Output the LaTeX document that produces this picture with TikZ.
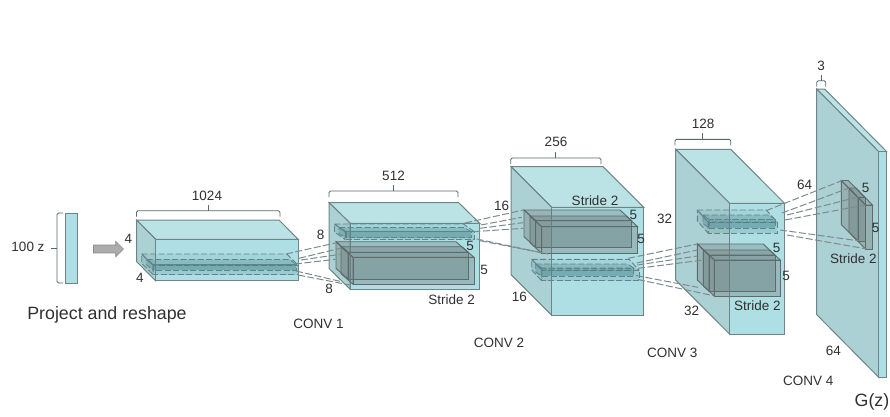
\documentclass[tikz,border=0pt]{standalone}
\usepackage{fontspec}
\setmainfont{Liberation Sans}
\usepackage{xcolor}
\usepackage{tikz}
\usetikzlibrary{shapes,arrows,arrows.meta,positioning,calc}
\definecolor{volfront}{HTML}{AEDFE4}
\definecolor{voltop}{HTML}{BBE3E6}
\definecolor{volside}{HTML}{ACD1D4}
\definecolor{voledge}{HTML}{6F8486}
\definecolor{kergray}{HTML}{5F6A6A}
\definecolor{kerteal}{HTML}{3C7882}
\definecolor{dshedge}{HTML}{5F8589}
\definecolor{lnkgray}{HTML}{7C8B8C}
\definecolor{txtgray}{HTML}{303030}

\newcommand{\cuboid}[8]{%
  \coordinate (#1-btl) at (#2,#3);
  \coordinate (#1-btr) at (#2+#6,#3);
  \coordinate (#1-bbl) at (#2,#3+#7);
  \coordinate (#1-ftl) at (#4,#5);
  \coordinate (#1-ftr) at (#4+#6,#5);
  \coordinate (#1-fbl) at (#4,#5+#7);
  \coordinate (#1-fbr) at (#4+#6,#5+#7);
  \draw[#8/top] (#1-btl) -- (#1-btr) -- (#1-ftr) -- (#1-ftl) -- cycle;
  \draw[#8/side] (#1-btl) -- (#1-ftl) -- (#1-fbl) -- (#1-bbl) -- cycle;
  \draw[#8/front] (#1-ftl) rectangle (#1-fbr);
}
\newcommand{\widthbrace}[3]{%
  \draw[brk] (#1,#3+6) -- (#1,#3) -- (#2,#3) -- (#2,#3+6);
  \draw[brk] ({(#1+#2)/2},#3) -- ({(#1+#2)/2},#3-6);
}

\begin{document}
\begin{tikzpicture}[
    x=1pt,y=-1pt,
    vol/top/.style   = {draw=voledge,line width=1pt,fill=voltop},
    vol/side/.style  = {draw=voledge,line width=1pt,fill=volside},
    vol/front/.style = {draw=voledge,line width=1pt,fill=volfront},
    ker/top/.style   = {draw=kergray,line width=0.9pt,fill=kergray,fill opacity=0.28},
    ker/side/.style  = {draw=kergray,line width=0.9pt,fill=kergray,fill opacity=0.3},
    ker/front/.style = {draw=kergray,line width=0.9pt,fill=kergray,fill opacity=0.3},
    dsh/top/.style   = {draw=dshedge,line width=0.9pt,dash pattern=on 6pt off 2.5pt,fill=kerteal,fill opacity=0.1},
    dsh/side/.style  = {draw=dshedge,line width=0.9pt,dash pattern=on 6pt off 2.5pt,fill=kerteal,fill opacity=0.16},
    dsh/front/.style = {draw=dshedge,line width=0.9pt,dash pattern=on 6pt off 2.5pt,fill=kerteal,fill opacity=0.18},
    inn/top/.style   = {draw=dshedge,line width=0.8pt,dash pattern=on 6pt off 2.5pt,fill=kerteal,fill opacity=0.25},
    inn/side/.style  = {draw=dshedge,line width=0.8pt,dash pattern=on 6pt off 2.5pt,fill=kerteal,fill opacity=0.28},
    inn/front/.style = {draw=dshedge,line width=0.8pt,dash pattern=on 6pt off 2.5pt,fill=kerteal,fill opacity=0.38},
    frontline/.style = {draw=voledge,line width=0.9pt,opacity=0.55},
    lnk/.style  = {draw=lnkgray,line width=1pt,dash pattern=on 7pt off 2.5pt},
    brk/.style  = {draw=voledge!80!black,line width=0.9pt,rounded corners=1.5pt},
    num/.style  = {font=\fontsize{13.5}{15}\selectfont,text=txtgray,inner sep=0pt},
    bigtext/.style  = {font=\fontsize{17.8}{20}\selectfont,text=txtgray,inner sep=0pt},
    bigarrow/.style = {single arrow,draw=gray!90,fill=gray!65,line width=0.6pt,
                       minimum height=30pt,minimum width=15.5pt,inner sep=3.4pt,
                       single arrow head extend=3.5pt,single arrow head indent=0pt},
  ]
  \useasboundingbox (0,0) rectangle (890,416);

  \draw[vol/front] (65.5,213) rectangle (77.5,283);
  \draw[brk] (63,213) -- (57,213) -- (57,283) -- (63,283);
  \draw[brk] (57,248) -- (50.5,248);
  \node[num] (z) at (28,247) {100 z};
  \node[bigarrow] (proj) at (106.5,249) {};
  \node[bigtext] (reshape) at (107,314.5) {Project and reshape};

  \cuboid{v1}{136.5}{220}{155.7}{239.3}{142.5}{41.5}{vol}
  \cuboid{v2}{329}{202.5}{350.2}{223.3}{129.5}{66}{vol}
  \cuboid{v3}{511}{166.7}{551.7}{207.3}{92}{108}{vol}
  \cuboid{v4}{675.7}{149.3}{729.5}{203.3}{55}{130.7}{vol}
  \cuboid{v5}{816.7}{89}{878.7}{151.7}{8}{225.6}{vol}

  \cuboid{d1}{141.7}{254}{153}{265}{145}{9.5}{dsh}
  \cuboid{e1}{146.7}{259.5}{153}{264.5}{143}{5.5}{inn}
  \cuboid{d2}{334.5}{224}{345}{231.5}{129}{8}{dsh}
  \cuboid{e2}{339}{227.5}{346}{231.5}{125}{6}{inn}
  \cuboid{d3}{531.7}{259.3}{541.7}{270}{97.3}{10.7}{dsh}
  \cuboid{e3}{535.7}{264}{541.7}{268}{92}{8}{inn}
  \cuboid{d4}{697.3}{210}{708}{222}{69}{11}{dsh}
  \cuboid{e4}{703}{215}{709}{219.5}{66}{8.5}{inn}

  \cuboid{k2a}{336}{241.7}{348}{252.3}{120}{26.7}{ker}
  \cuboid{k2b}{341}{246.7}{353}{257.3}{121}{27}{ker}
  \cuboid{k3a}{524}{210}{535.7}{220.7}{96}{26.7}{ker}
  \cuboid{k3b}{530}{216}{541.7}{226.7}{96}{26.7}{ker}
  \cuboid{k4a}{697.3}{244}{709}{255}{66}{36}{ker}
  \cuboid{k4b}{703.3}{250}{714.3}{260}{66}{36}{ker}
  \cuboid{k5a}{841.3}{180.5}{858}{197.5}{7}{44}{ker}
  \cuboid{k5b}{849}{188}{865.5}{205}{7}{44}{ker}

  \foreach \v in {v1,v2,v3,v4}
    \draw[frontline] (\v-ftl) rectangle (\v-fbr);

  \foreach \n/\sx/\sy/\tx/\ty in {
      a1/286/254/335.5/243,     a2/299/258.3/340/248.3,
      a3/301/260/340/254.3,     a4/295/264/335/259.3,
      a5/296/271/343/282,       a6/298/275/350/285,
      b1/465/223/523.5/210,     b2/480.7/225/521.7/217.3,
      b3/480/228.3/523/222.7,   b4/473.3/231.7/523/228.3,
      b5/476.7/239/540/252.3,   b6/480/240.7/548/254,
      c1/628.3/258.3/697.3/244, c2/636.7/263/697.3/250,
      c3/637.3/265/697.3/256,   c4/638/268.3/703.3/260,
      c5/636/275.5/698/287.3,   c6/638/279.5/713.3/295.7,
      f1/766/210.7/841.7/180.7, f2/782/213/849/188,
      f3/787/215/858/197,       f4/785/220/865/205,
      f5/780/230/860/241,       f6/787/235/867/249} {
    \coordinate (\n s) at (\sx,\sy);
    \coordinate (\n t) at (\tx,\ty);
    \draw[lnk] (\n s) -- (\n t);
  }

  \widthbrace{136.5}{280}{210.7}
  \widthbrace{329}{458}{191}
  \widthbrace{510.7}{601}{158}
  \widthbrace{675}{730.7}{139.3}
  \widthbrace{816.7}{825.7}{80.7}

  \node[num] (w1024) at (207,196)   {1024};
  \node[num] (w512)  at (393.5,175.7) {512};
  \node[num] (w256)  at (556,142)   {256};
  \node[num] (w128)  at (703,123.5) {128};
  \node[num] (w3)    at (821,66)    {3};

  \node[num] (h4)  at (128.5,238.5) {4};
  \node[num] (b4)  at (140,277.5)   {4};
  \node[num] (h8)  at (320.7,235)   {8};
  \node[num] (b8)  at (329,289)     {8};
  \node[num] (h16) at (501.7,205.5) {16};
  \node[num] (b16) at (519.3,296.7) {16};
  \node[num] (h32) at (664.5,219.3) {32};
  \node[num] (b32) at (691.7,311)   {32};
  \node[num] (h64) at (804.5,184.5) {64};
  \node[num] (b64) at (833.3,351)   {64};

  \node[num] (k2t) at (470,245.5)   {5};
  \node[num] (k2r) at (484,270)     {5};
  \node[num] (k3t) at (633.3,215)   {5};
  \node[num] (k3r) at (641,239.3)   {5};
  \node[num] (k4t) at (776.7,248.3) {5};
  \node[num] (k4r) at (786,276)     {5};
  \node[num] (k5t) at (865.7,187.5) {5};
  \node[num] (k5r) at (875.7,227.7) {5};

  \node[num] (s2) at (451.7,299.3) {Stride 2};
  \node[num] (s3) at (595,200.7)   {Stride 2};
  \node[num] (s4) at (757.3,306)   {Stride 2};
  \node[num] (s5) at (853.3,259)   {Stride 2};

  \node[num] (conv1) at (318.5,323.5) {CONV 1};
  \node[num] (conv2) at (499,342.7)   {CONV 2};
  \node[num] (conv3) at (672.3,352.7) {CONV 3};
  \node[num] (conv4) at (808.3,381)   {CONV 4};

  \node[bigtext,anchor=east] (gz) at (889.5,402) {G(z)};
\end{tikzpicture}
\end{document}
